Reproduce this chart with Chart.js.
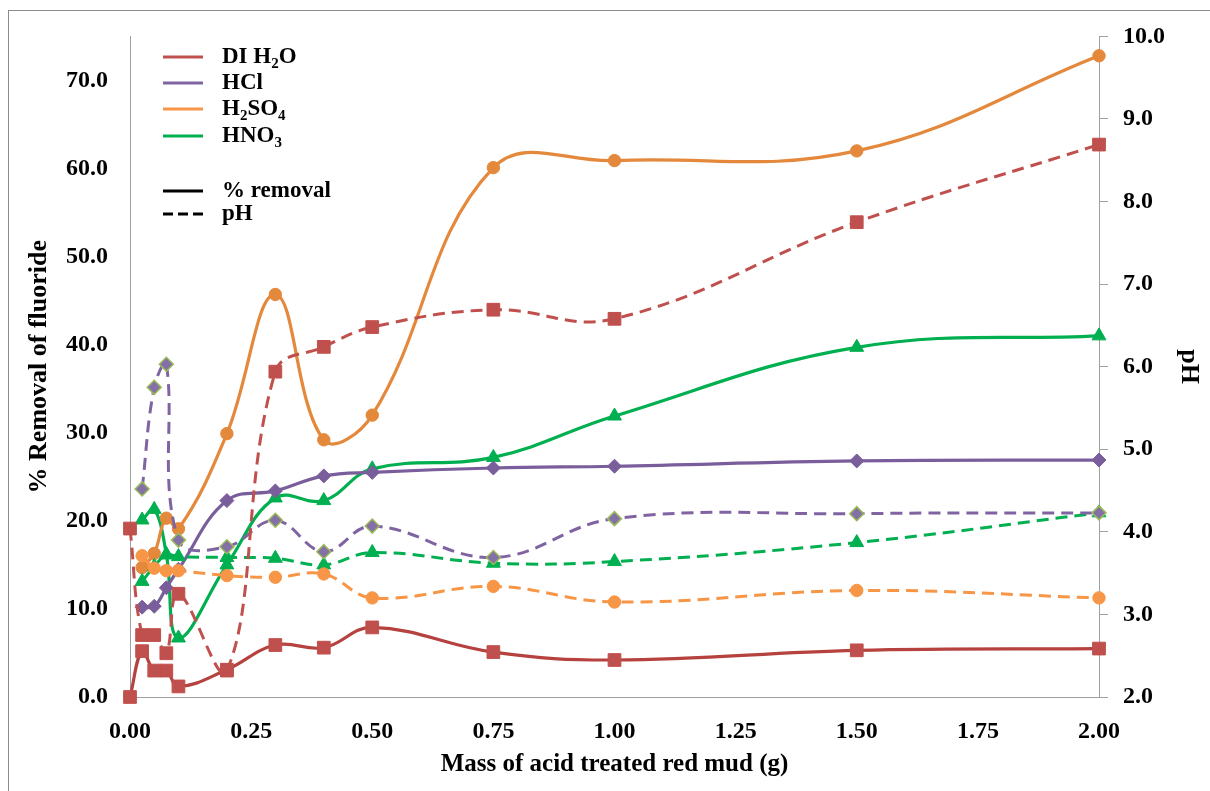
<!DOCTYPE html>
<html>
<head>
<meta charset="utf-8">
<script src="https://cdn.jsdelivr.net/npm/chart.js@4.4.1/dist/chart.umd.min.js"></script>
<style>
  html, body { margin: 0; padding: 0; background: #fff; }
  #wrap { position: relative; width: 1210px; height: 791px; }
</style>
</head>
<body>
<div id="wrap"><canvas id="c"></canvas></div>
<script>
// ---- data ----
const xDI = [0, 0.025, 0.05, 0.075, 0.1, 0.2, 0.3, 0.4, 0.5, 0.75, 1.0, 1.5, 2.0];
const diRemoval = [0.0, 5.2, 3.0, 3.0, 1.2, 3.1, 5.9, 5.6, 7.9, 5.1, 4.2, 5.3, 5.5];
const diPH      = [4.04, 2.75, 2.75, 2.53, 3.25, 2.32, 5.94, 6.24, 6.48, 6.69, 6.58, 7.75, 8.69];

const xAcid = [0.025, 0.05, 0.075, 0.1, 0.2, 0.3, 0.4, 0.5, 0.75, 1.0, 1.5, 2.0];
const hclRemoval = [10.2, 10.3, 12.4, 14.5, 22.3, 23.4, 25.1, 25.5, 26.0, 26.2, 26.8, 26.9];
const hclPH      = [4.52, 5.75, 6.03, 3.90, 3.82, 4.14, 3.76, 4.07, 3.69, 4.16, 4.22, 4.23];

const h2so4Removal = [14.7, 16.3, 20.3, 19.1, 29.9, 45.7, 29.2, 32.0, 60.1, 60.9, 62.0, 72.8];
const h2so4PH      = [3.71, 3.56, 3.53, 3.53, 3.47, 3.45, 3.49, 3.20, 3.34, 3.15, 3.29, 3.20];

const hno3Removal = [20.1, 21.3, 16.2, 6.7, 15.0, 22.6, 22.3, 25.9, 27.2, 31.9, 39.7, 41.0];
const hno3PH      = [3.40, 3.58, 3.72, 3.70, 3.69, 3.68, 3.60, 3.75, 3.62, 3.64, 3.87, 4.23];

const xTickStep = 0.25;
const leftTicksMax = 70;

function pts(xs, ys) { return xs.map((x, i) => ({ x: x, y: ys[i] })); }

const SERIF = '"Liberation Serif", "Times New Roman", serif';
const DASH = [12, 7];

function solid(label, xs, ys, color, style, r, fill, border) {
  return {
    label, data: pts(xs, ys), yAxisID: 'y', clip: 12,
    borderColor: color, borderWidth: 3.2, tension: 0.4,
    pointStyle: style, pointRadius: r, pointHoverRadius: r,
    pointBackgroundColor: fill || color, pointBorderColor: border || fill || color, pointBorderWidth: 1
  };
}
function dashed(label, xs, ys, color, style, r, fill, border, bw) {
  return {
    label, data: pts(xs, ys), yAxisID: 'y1', clip: 12,
    borderColor: color, borderWidth: 3, borderDash: DASH, tension: 0.4,
    pointStyle: style, pointRadius: r, pointHoverRadius: r,
    pointBackgroundColor: fill || color, pointBorderColor: border || fill || color, pointBorderWidth: bw || 1
  };
}

const datasets = [
  dashed('DI H2O pH', xDI, diPH, '#C0504D', 'rect', 9),
  dashed('HCl pH', xAcid, hclPH, '#8064A2', 'rectRot', 7, '#8470A6', '#9BBB59', 1.5),
  dashed('H2SO4 pH', xAcid, h2so4PH, '#F79646', 'circle', 6.2),
  dashed('HNO3 pH', xAcid, hno3PH, '#00B050', 'triangle', 8),
  solid('DI H2O % removal', xDI, diRemoval, '#B5423F', 'rect', 9, '#C0504D'),
  solid('HCl % removal', xAcid, hclRemoval, '#7A5E9C', 'rectRot', 7, '#7A5E9C'),
  solid('H2SO4 % removal', xAcid, h2so4Removal, '#E4883C', 'circle', 6.2, '#E4883C'),
  solid('HNO3 % removal', xAcid, hno3Removal, '#00B050', 'triangle', 8, '#00B050')
];

const framePlugin = {
  id: 'frame',
  beforeDraw(chart) {
    const ctx = chart.ctx;
    ctx.save();
    ctx.fillStyle = '#fff';
    ctx.fillRect(0, 0, chart.width, chart.height);
    ctx.strokeStyle = '#8c8c8c';
    ctx.lineWidth = 1;
    ctx.strokeRect(8.5, 10.5, 1400, 1000);
    ctx.restore();
  }
};

const legendItems = [
  { color: '#C0504D', parts: [['DI H', 0], ['2', 1], ['O', 0]], y: 57, dash: false },
  { color: '#8064A2', parts: [['HCl', 0]], y: 83, dash: false },
  { color: '#F79646', parts: [['H', 0], ['2', 1], ['SO', 0], ['4', 1]], y: 109, dash: false },
  { color: '#00B050', parts: [['HNO', 0], ['3', 1]], y: 136, dash: false },
  { color: '#000000', parts: [['% removal', 0]], y: 191, dash: false },
  { color: '#000000', parts: [['pH', 0]], y: 214, dash: true }
];

const legendPlugin = {
  id: 'customLegend',
  afterDraw(chart) {
    const ctx = chart.ctx;
    ctx.save();
    legendItems.forEach(it => {
      ctx.strokeStyle = it.color;
      ctx.lineWidth = 3.2;
      ctx.setLineDash(it.dash ? [10, 5] : []);
      ctx.beginPath();
      ctx.moveTo(163, it.y);
      ctx.lineTo(203, it.y);
      ctx.stroke();
      ctx.setLineDash([]);
      let x = 222;
      ctx.fillStyle = '#000';
      ctx.textBaseline = 'middle';
      ctx.textAlign = 'left';
      it.parts.forEach(([t, sub]) => {
        ctx.font = 'bold ' + (sub ? 15 : 23) + 'px ' + SERIF;
        ctx.fillText(t, x, it.y + (sub ? 7 : 0));
        x += ctx.measureText(t).width;
      });
    });
    ctx.restore();
  }
};

new Chart(document.getElementById('c'), {
  type: 'line',
  data: { datasets },
  plugins: [framePlugin, legendPlugin],
  options: {
    responsive: true,
    maintainAspectRatio: false,
    animation: false,
    layout: { padding: { top: 29, left: 0, right: 0, bottom: 0 } },
    plugins: { legend: { display: false }, tooltip: { enabled: false } },
    elements: { line: { capBezierPoints: true } },
    scales: {
      x: {
        type: 'linear', min: 0, max: 2,
        ticks: {
          stepSize: xTickStep, color: '#000', padding: 20,
          font: { family: SERIF, size: 24, weight: 'bold' },
          callback: v => Number(v).toFixed(2), maxRotation: 0
        },
        grid: { display: false, drawTicks: false },
        border: { display: true, color: '#a0a0a0', width: 1 },
        title: {
          display: true, text: 'Mass of acid treated red mud (g)', color: '#000',
          font: { family: SERIF, size: 25, weight: 'bold', lineHeight: 1.2 },
          padding: { top: 0, bottom: 11 }
        },
        afterFit(s) { s.height = 94; }
      },
      y: {
        type: 'linear', position: 'left', min: 0, max: 75,
        ticks: {
          stepSize: 10, color: '#000', padding: 22,
          font: { family: SERIF, size: 24, weight: 'bold' },
          callback: v => Number(v).toFixed(1)
        },
        afterBuildTicks(s) { s.ticks = s.ticks.filter(t => t.value <= leftTicksMax); },
        grid: { display: false, drawTicks: false },
        border: { display: true, color: '#a0a0a0', width: 1 },
        title: {
          display: true, text: '% Removal of fluoride', color: '#000',
          font: { family: SERIF, size: 26, weight: 'bold', lineHeight: 1.2 },
          padding: { top: 24, bottom: 0 }
        },
        afterFit(s) { s.width = 130; }
      },
      y1: {
        type: 'linear', position: 'right', min: 2, max: 10,
        ticks: {
          stepSize: 1, color: '#000', padding: 15,
          font: { family: SERIF, size: 24, weight: 'bold' },
          callback: v => Number(v).toFixed(1)
        },
        grid: { display: true, drawOnChartArea: false, drawTicks: true, tickLength: 9, color: '#a0a0a0' },
        border: { display: true, color: '#a0a0a0', width: 1 },
        title: {
          display: true, text: 'pH', color: '#000',
          font: { family: SERIF, size: 26, weight: 'bold', lineHeight: 1.2 },
          padding: { top: 6, bottom: 0 }
        },
        afterFit(s) { s.width = 111; }
      }
    }
  }
});
</script>
</body>
</html>
